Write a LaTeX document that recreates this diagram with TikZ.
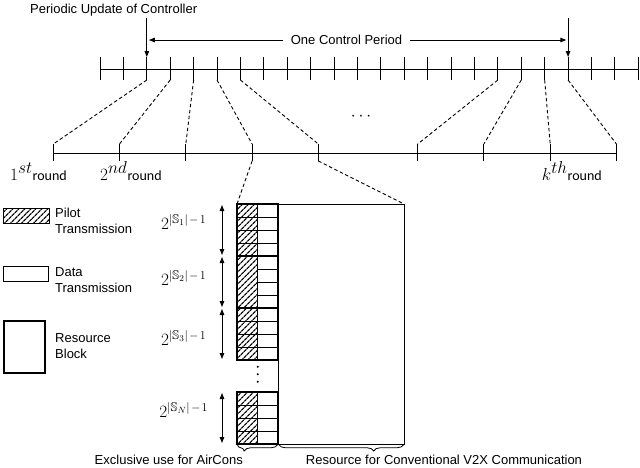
\documentclass[tikz,border=0pt]{standalone}
\usepackage[no-math]{fontspec}
\setmainfont{Liberation Sans}
\newfontfamily\roundfont{Carlito}
\usepackage{amssymb}
\usetikzlibrary{arrows.meta,patterns.meta,decorations.pathreplacing}
\newcommand{\roundlbl}[1]{{\fontsize{16.5}{16.5}\selectfont$#1$}{\roundfont\fontsize{14}{14}\selectfont round}}
\newcommand{\sizelbl}[1]{{\fontsize{17}{17}\selectfont$2^{\mbox{\fontsize{12.5}{12.5}\selectfont$|\mathbb{S}_{#1}|\mkern2mu{-}\mkern2mu1$}}$}}
\begin{document}
\begin{tikzpicture}[x=1pt,y=-1pt,
  line/.style={line width=1pt},
  tickmark/.style={line width=1pt},
  dsh/.style={line width=0.9pt, dash pattern=on 3.5pt off 2.5pt},
  lbl/.style={font=\fontsize{13}{16}\selectfont, inner sep=0pt},
  mlbl/.style={inner sep=0pt},
  arr/.style={line width=1pt,-{Triangle[length=6pt,width=4.5pt]}},
  darr/.style={line width=1pt,{Triangle[length=6pt,width=4.5pt]}-{Triangle[length=6pt,width=4.5pt]}},
  hatch/.style={pattern={Lines[angle=45,distance=4pt,line width=1.3pt]}},
  thickbox/.style={line width=2pt},
  thinbox/.style={line width=0.8pt},
  ]
\useasboundingbox (0,0) rectangle (640,467);

% ---------- top timeline ----------
\foreach \i in {1,...,24} {
  \pgfmathsetmacro\xx{100+(\i-1)*23.404}
  \coordinate (tt\i) at (\xx,57);
  \coordinate (tb\i) at (\xx,80);
  \draw[tickmark] (tt\i) -- (tb\i);
}
\coordinate (topL) at (100,69);
\coordinate (topR) at (638.3,69);
\draw[line] (topL) -- (topR);

% ---------- bottom timeline ----------
\foreach \xx/\i in {53.3/1,119.5/2,185.8/3,252.1/4,318.3/5,417.7/6,483.9/7,550.2/8,616.4/9} {
  \coordinate (bt\i) at (\xx,144);
  \coordinate (bb\i) at (\xx,161);
  \draw[tickmark] (bt\i) -- (bb\i);
}
\coordinate (botL) at (53.3,153);
\coordinate (botR) at (616.4,153);
\draw[line] (botL) -- (botR);

% zoom connectors
\foreach \a/\b in {3/1,4/2,5/3,6/4,7/5,18/6,19/7,20/8,21/9}
  \draw[dsh] (tb\a) -- (bt\b);

\node[font=\fontsize{18}{18}\selectfont, inner sep=0pt] (ell) at (361,117) {$\cdots$};

% ---------- controller update ----------
\node[lbl, anchor=west] (upd) at (30,10) {Periodic Update of Controller};
\coordinate (u1) at (tt3 |- 0,18);
\coordinate (u2) at (tt21 |- 0,18);
\draw[arr] (u1) -- (tt3);
\draw[arr] (u2) -- (tt21);

\node[lbl, inner xsep=7.5pt] (cp) at (346.5,40) {One Control Period};
\coordinate (cpL) at (148.8,40);
\coordinate (cpR) at (566.3,40);
\draw[arr] (cp) -- (cpL);
\draw[arr] (cp) -- (cpR);

% ---------- round labels ----------
\node[anchor=base west, inner sep=0pt] (r1) at (10,180) {\roundlbl{1^{\textstyle st}}};
\node[anchor=base west, inner sep=0pt] (r2) at (100,180) {\roundlbl{2^{\textstyle nd}}};
\node[anchor=base west, inner sep=0pt] (rk) at (541.7,180) {\roundlbl{k^{\textstyle th}}};

% ---------- legend ----------
\node[draw, thinbox, hatch, minimum width=45.6pt, minimum height=15pt, inner sep=0pt, anchor=north west] (pilotbox) at (2.7,208) {};
\node[lbl, align=left, anchor=west] (pilottxt) at (55,221) {Pilot\\Transmission};
\node[draw, thinbox, minimum width=45.6pt, minimum height=15pt, inner sep=0pt, anchor=north west] (databox) at (2.7,266) {};
\node[lbl, align=left, anchor=west] (datatxt) at (55,280) {Data\\Transmission};
\node[draw, thickbox, minimum width=41pt, minimum height=51.7pt, inner sep=0pt, anchor=north west] (rbbox) at (3.3,320) {};
\node[lbl, align=left, anchor=west] (rbtxt) at (55,346) {Resource\\Block};

% ---------- resource block ----------
\node[draw, thinbox, minimum width=126pt, minimum height=240pt, inner sep=0pt, outer sep=0pt, anchor=north west] (v2x) at (278,204) {};

\foreach \t/\i/\full in {204/1/1,256/2/0,308/3/1,392/4/1} {
  \path[hatch] (237,\t) rectangle (257.5,\t+52);
  \draw[thinbox] (257.5,\t) -- (257.5,\t+52);
  \foreach \k in {1,2,3} {
    \ifnum\full=1
      \draw[thinbox] (237,\t+13*\k) -- (278,\t+13*\k);
    \else
      \draw[thinbox] (257.5,\t+13*\k) -- (278,\t+13*\k);
    \fi
  }
  \node[draw, thickbox, minimum width=41pt, minimum height=52pt, inner sep=0pt, outer sep=0pt, anchor=north west] (g\i) at (237,\t) {};
  \draw[darr] ([xshift=-15pt,yshift=-1pt]g\i.north west) -- ([xshift=-15pt,yshift=1pt]g\i.south west);
}

\foreach \yy in {366.7,374.2,381.7}
  \fill (257.7,\yy) circle (1.1pt);

\node[mlbl] (L1) at (183.7,222) {\sizelbl{1}};
\node[mlbl] (L2) at (183.7,278) {\sizelbl{2}};
\node[mlbl] (L3) at (183.7,338) {\sizelbl{3}};
\node[mlbl] (LN) at (183.7,410) {\sizelbl{N}};

\draw[dsh] (bb4) -- (g1.north west);
\draw[dsh] (bb5) -- (v2x.north east);

% braces
\draw[thinbox, decorate, decoration={brace, mirror, amplitude=6.5pt, aspect=0.17}]
  ([xshift=0.3pt,yshift=-0.5pt]g4.south west) -- ([xshift=-0.3pt,yshift=-0.5pt]g4.south east);
\draw[thinbox, decorate, decoration={brace, mirror, amplitude=6.5pt, aspect=0.76}]
  ([xshift=0.8pt,yshift=-0.5pt]v2x.south west) -- ([xshift=-0.3pt,yshift=-0.5pt]v2x.south east);

\node[lbl] (excl) at (168.8,459.5) {Exclusive use for AirCons};
\node[lbl] (conv) at (444,459.5) {Resource for Conventional V2X Communication};
\end{tikzpicture}
\end{document}
